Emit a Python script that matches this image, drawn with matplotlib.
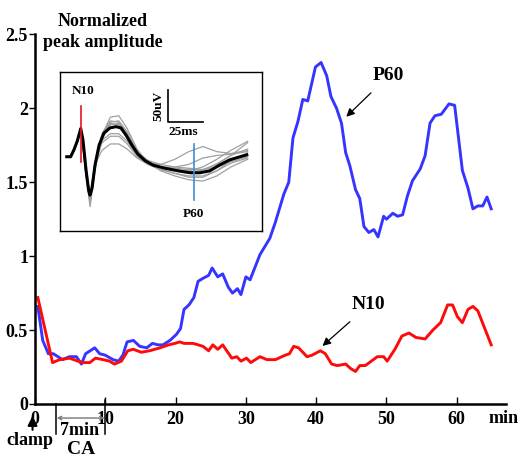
import matplotlib
matplotlib.use('Agg')
from matplotlib import pyplot as plt

plt.rcParams['font.family'] = ['Liberation Serif', 'DejaVu Serif']
plt.rcParams['font.weight'] = 'bold'

# main traces: time (min) vs normalized peak amplitude
p60_min = [0.4, 1.1, 1.9, 2.6, 3.9, 4.9, 5.9, 6.6, 7.2, 8.5, 9.2, 10, 11.1, 11.9, 12.5,
           13.1, 14, 14.9, 15.9, 16.7, 17.5, 18.2, 19.2, 20.1, 20.7, 21.2, 21.9, 22.6,
           23.2, 23.9, 24.7, 25.2, 26, 26.7, 27.5, 28.1, 28.8, 29.3, 30, 30.6, 32, 33.4,
           34.2, 35.4, 36.1, 36.7, 37.4, 38.1, 38.8, 39.9, 40.7, 41.5, 42.1, 42.9, 43.6,
           44.2, 44.8, 45.6, 46.2, 46.8, 47.5, 48.2, 48.8, 49.6, 50, 50.9, 51.6, 52.3,
           53, 53.7, 54.8, 55.5, 56.2, 56.9, 57.8, 58.9, 59.7, 60.8, 61.6, 62.3, 63,
           63.7, 64.3, 64.9]
p60_amp = [0.66, 0.43, 0.34, 0.34, 0.30, 0.32, 0.32, 0.27, 0.34, 0.38, 0.34, 0.33, 0.30,
           0.29, 0.33, 0.42, 0.43, 0.39, 0.38, 0.41, 0.40, 0.40, 0.43, 0.47, 0.51, 0.64,
           0.67, 0.72, 0.83, 0.85, 0.87, 0.92, 0.86, 0.88, 0.79, 0.75, 0.78, 0.74, 0.86,
           0.84, 1.01, 1.12, 1.23, 1.42, 1.50, 1.80, 1.91, 2.06, 2.05, 2.28, 2.31, 2.22,
           2.08, 2.00, 1.90, 1.70, 1.61, 1.45, 1.39, 1.20, 1.16, 1.18, 1.13, 1.27, 1.25,
           1.29, 1.27, 1.28, 1.41, 1.51, 1.59, 1.68, 1.90, 1.95, 1.96, 2.03, 2.02, 1.58,
           1.46, 1.32, 1.34, 1.34, 1.40, 1.32]

n10_min = [0.4, 2.5, 3.5, 4.9, 6.1, 6.8, 7.8, 8.6, 9.7, 10.6, 11.3, 12.3, 13.2, 14, 15.1,
           16.3, 17.8, 19, 19.9, 20.6, 21.2, 22.5, 23.9, 24.7, 25.3, 26, 26.7, 28, 28.7,
           29.3, 30.1, 30.7, 32, 33, 34.2, 35.6, 36.2, 36.8, 37.5, 38.7, 39.4, 40.6, 41.3,
           42.2, 43, 44.2, 44.9, 45.6, 46.2, 47, 48.7, 49.6, 50.1, 51.2, 52.2, 53.2, 54.2,
           55.5, 56.6, 57.7, 58.7, 59.4, 60.1, 60.8, 61.6, 62.3, 63, 64.9]
n10_amp = [0.72, 0.28, 0.30, 0.31, 0.29, 0.28, 0.28, 0.31, 0.30, 0.29, 0.27, 0.29, 0.36,
           0.37, 0.35, 0.36, 0.38, 0.40, 0.41, 0.42, 0.41, 0.41, 0.39, 0.36, 0.40, 0.37,
           0.40, 0.31, 0.32, 0.29, 0.31, 0.28, 0.32, 0.30, 0.30, 0.33, 0.34, 0.39, 0.38,
           0.32, 0.33, 0.36, 0.34, 0.27, 0.26, 0.27, 0.24, 0.22, 0.26, 0.26, 0.32, 0.32,
           0.29, 0.37, 0.46, 0.48, 0.45, 0.44, 0.50, 0.55, 0.67, 0.67, 0.59, 0.55, 0.64,
           0.66, 0.63, 0.40]

# inset: evoked potentials (ms vs uV)
avg_ms = [4.8, 7.6, 10, 12.4, 14.8, 16.4, 18.6, 20.4, 21.4, 22.9, 25, 27.9, 31.4, 35.7,
          40, 43.6, 47.1, 51.4, 55.7, 60.7, 66.4, 75, 84.3, 92.9, 100, 107, 114, 121,
          128.6, 133.4]
avg_uv = [116, 116, 127, 141, 160, 142, 95, 64, 56, 67, 103, 134, 153, 161, 163, 161,
          150, 134, 120, 110, 103, 98, 94, 91, 91, 94, 103, 111, 116, 119]

trial_ms = [12, 15, 18.5, 21.5, 25, 30, 36, 42, 48, 55, 63, 72, 82, 92, 102, 112, 122, 134]
trials_uv = [
    [136, 158, 92, 50, 100, 150, 170, 172, 155, 125, 108, 100, 95, 92, 95, 105, 118, 128],
    [137, 159, 90, 45, 98, 148, 166, 168, 152, 122, 104, 96, 90, 84, 84, 94, 110, 122],
    [138, 160, 96, 58, 106, 142, 152, 152, 140, 118, 106, 104, 112, 124, 132, 124, 121, 126],
    [138, 160, 94, 52, 104, 138, 148, 148, 136, 116, 104, 100, 98, 96, 96, 104, 118, 138],
    [137, 159, 88, 38, 96, 150, 178, 180, 160, 128, 106, 94, 86, 80, 78, 86, 100, 112],
    [138, 160, 93, 48, 102, 146, 162, 162, 146, 120, 106, 100, 96, 94, 100, 112, 126, 140],
    [137, 159, 91, 44, 100, 152, 172, 170, 150, 124, 110, 104, 100, 98, 96, 100, 108, 116],
    [138, 160, 95, 56, 104, 126, 136, 136, 128, 114, 104, 100, 100, 104, 114, 118, 120, 124],
    [137, 159, 90, 42, 98, 150, 168, 166, 148, 120, 104, 96, 90, 86, 86, 94, 106, 114],
]

fig = plt.figure(figsize=(5.2, 4.57), dpi=100)
ax = fig.add_axes([0.0673, 0.116, 0.9057, 0.8087])

ax.plot(p60_min, p60_amp, color='#3535ff', lw=2.1)
ax.plot(n10_min, n10_amp, color='#ff0a0a', lw=2.1)

ax.set_xlim(0, 67)
ax.set_ylim(0, 2.5)
ax.set_xticks([0, 10, 20, 30, 40, 50, 60])
ax.set_yticks([0, 0.5, 1, 1.5, 2, 2.5])
ax.set_yticklabels(['0', '0.5', '1', '1.5', '2', '2.5'])
ax.tick_params(axis='x', direction='in', length=5, width=1, labelsize=13, pad=5)
ax.tick_params(axis='y', direction='out', length=4, width=1, labelsize=13, pad=1)
for side in ['top', 'right']:
    ax.spines[side].set_visible(False)
for side in ['left', 'bottom']:
    ax.spines[side].set_linewidth(1.8)

fig.text(0.198, 0.954, 'Normalized', ha='center', va='center', fontsize=13)
fig.text(0.198, 0.906, 'peak amplitude', ha='center', va='center', fontsize=13)

ax.annotate('P60', xy=(44.0, 1.93), xytext=(50.3, 2.22), ha='center', va='center',
            fontsize=14, arrowprops=dict(arrowstyle='-|>', color='black', lw=0.9,
                                         mutation_scale=12, shrinkA=6))
ax.annotate('N10', xy=(40.6, 0.38), xytext=(47.5, 0.67), ha='center', va='center',
            fontsize=14, arrowprops=dict(arrowstyle='-|>', color='black', lw=0.9,
                                         mutation_scale=12, shrinkA=6))

# annotations under the time axis
ax.text(66.7, -0.1, 'min', ha='center', va='center', fontsize=13, clip_on=False)
ax.annotate('', xy=(-0.35, -0.08), xytext=(-0.35, -0.175),
            arrowprops=dict(arrowstyle='-|>', color='black', lw=1.5, mutation_scale=14,
                            shrinkA=0, shrinkB=0),
            annotation_clip=False)
ax.text(-0.75, -0.25, 'clamp', ha='center', va='center', fontsize=13, clip_on=False)
ax.plot([3, 3], [0, -0.2], color='black', lw=1.1, clip_on=False)
ax.plot([10, 10], [0.03, -0.2], color='black', lw=1.1, clip_on=False)
ax.annotate('', xy=(3.1, -0.095), xytext=(9.9, -0.095),
            arrowprops=dict(arrowstyle='<->', color='#777777', lw=1.0, mutation_scale=6,
                            shrinkA=0, shrinkB=0), annotation_clip=False)
ax.text(6.3, -0.18, '7min', ha='center', va='center', fontsize=13, clip_on=False)
ax.text(6.6, -0.31, 'CA', ha='center', va='center', fontsize=14, clip_on=False)

# inset with the evoked responses
ins = fig.add_axes([0.1154, 0.4945, 0.3885, 0.348])
for tr in trials_uv:
    ins.plot(trial_ms, tr, color='#a0a0a0', lw=0.9)
ins.plot(avg_ms, avg_uv, color='black', lw=2.2)
ins.plot([14.8, 14.8], [108, 195], color='#e8141e', lw=1.2)
ins.plot([96, 96], [48, 136], color='#3a8fd8', lw=1.2)
ins.text(16.4, 218, 'N10', ha='center', va='center', fontsize=9.5)
ins.text(95, 26, 'P60', ha='center', va='center', fontsize=9.5)
ins.plot([77, 77, 102], [220, 171, 171], color='black', lw=1.2)
ins.text(70, 196, '50uV', rotation=90, ha='center', va='center', fontsize=9.5)
ins.text(88, 155, '25ms', ha='center', va='center', fontsize=9.5)
ins.set_xlim(0, 144.3)
ins.set_ylim(0, 248.4)
ins.set_xticks([])
ins.set_yticks([])
for sp in ins.spines.values():
    sp.set_linewidth(1.0)

fig.savefig('out.png', dpi=100)
